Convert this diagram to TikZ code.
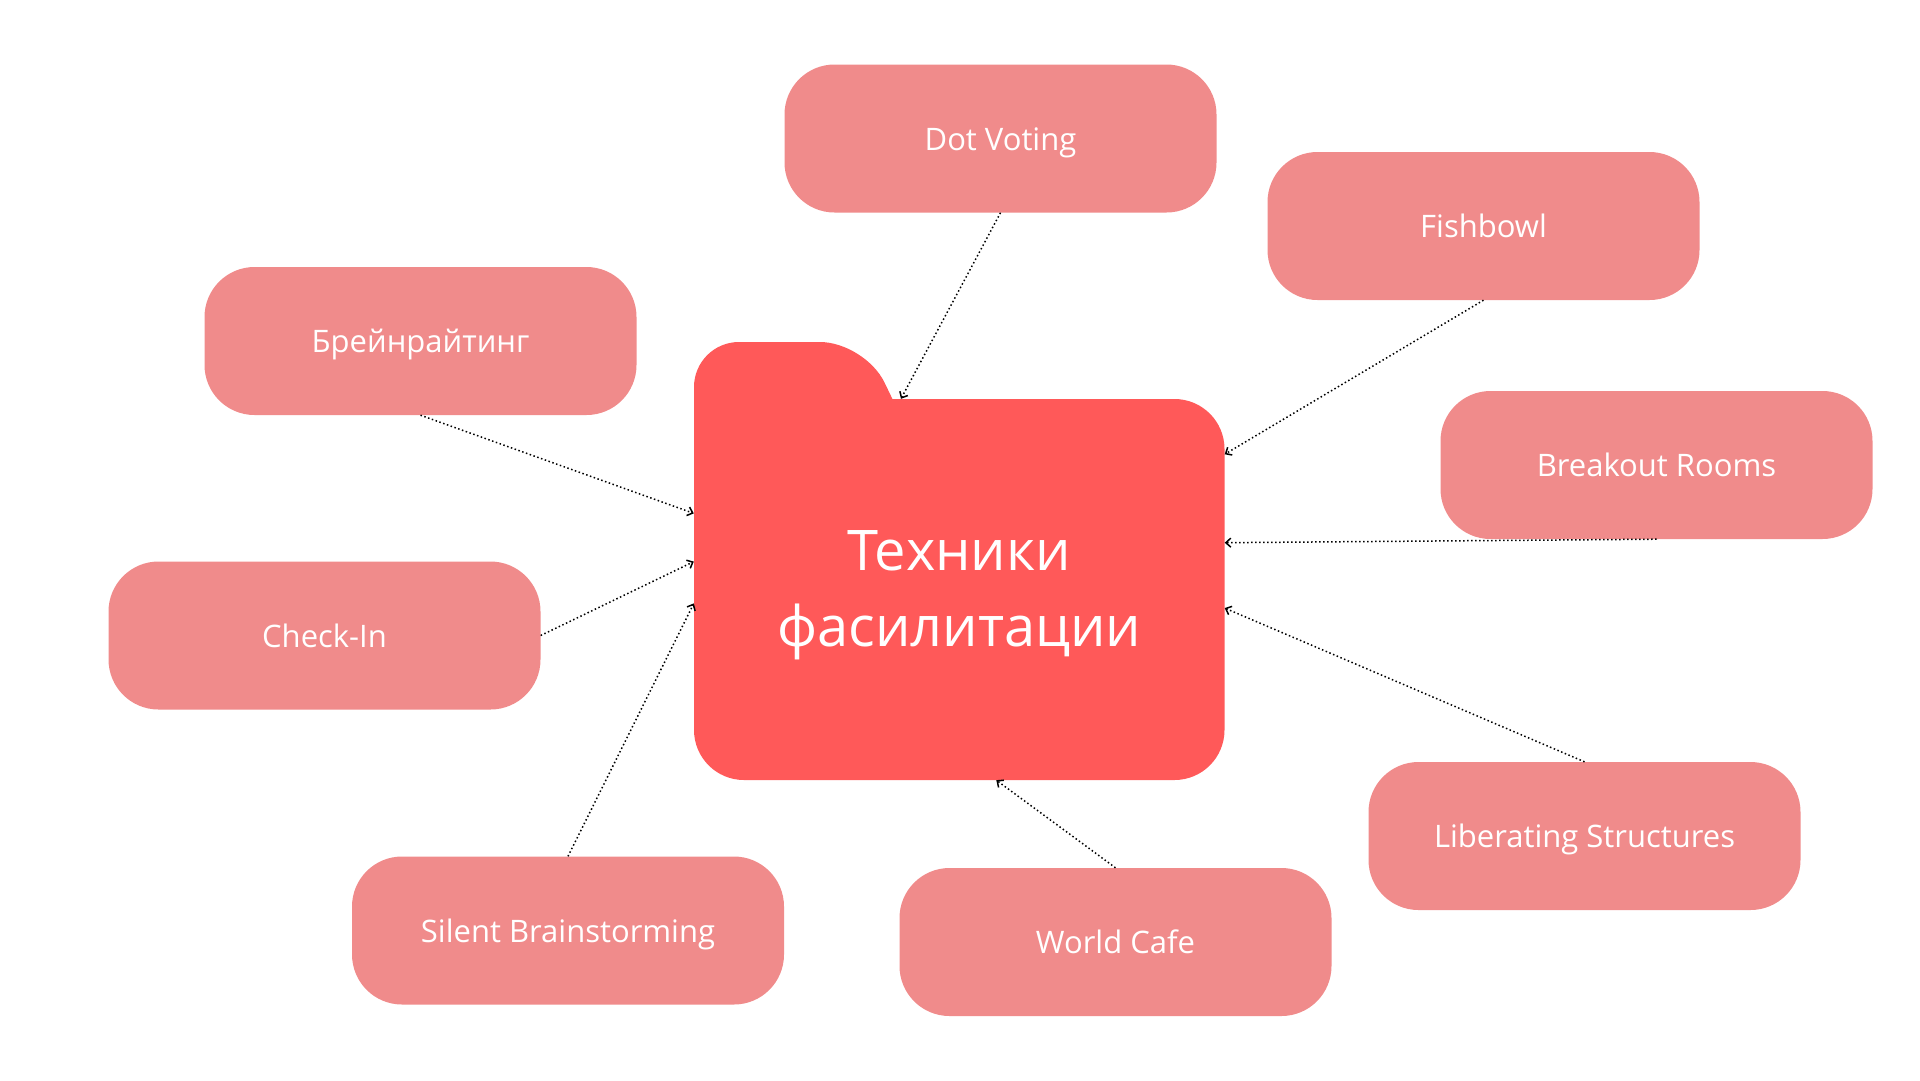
\documentclass[tikz,border=0pt]{standalone}
\usepackage{fontspec}
\setmainfont{Open Sans}
\usetikzlibrary{arrows.meta,positioning}

\definecolor{boxpink}{RGB}{240,139,139}
\definecolor{folderred}{RGB}{255,89,89}

\begin{document}
\begin{tikzpicture} [x=1pt, y=-1pt,
    technique/.style={fill=boxpink, rounded corners=50pt, minimum width=432pt, minimum height=148pt, inner sep=0pt, text height=23pt, text depth=0pt, text=white, font=\fontsize{31}{37}\selectfont},
    foldertext/.style={minimum width=530.5pt, minimum height=381pt, inner sep=0pt, align=center, text=white, font=\fontsize{56}{76}\selectfont},
link/.style={black, line width=1.5pt, dash pattern=on 1.5pt off 2.5pt, -{Straight Barb[length=5pt, width=9pt, line width=1.5pt]}}
  ]

\useasboundingbox (0,0) rectangle (1920,1080);

% folder
\fill[folderred, rounded corners=50pt] (694,399) rectangle (1224.5,780);
\fill[folderred, rounded corners=45pt] (694,520) -- (694,342) -- (865,342) -- (950.7,520) -- cycle;
\node[foldertext] (folder) at (959.25,589.5) {\rule{0pt}{52pt}Техники\\фасилитации};

\node[technique] (dot) at (1000.5,138.5) {Dot Voting};
\node[technique] (fish) at (1483.5,226) {Fishbowl};
\node[technique] (brain) at (420.5,341) {Брейнрайтинг};
\node[technique] (breakout) at (1656.5,465) {Breakout Rooms};
\node[technique] (checkin) at (324.5,635.5) {Check-In};
\node[technique] (liberating) at (1584.5,836) {Liberating Structures};
\node[technique] (silent) at (568,930.5) {Silent Brainstorming};
\node[technique] (cafe) at (1115.5,942) {World Cafe};

% arrows into the folder
\draw[link] (dot.south) -- (folder.107.6);
\draw[link] (fish.south) -- (folder.27.4);
\draw[link] (brain.south) -- (folder.164.7);
\draw[link] (breakout.south) -- (folder.10.1);
\draw[link] (checkin.east) -- (folder.174.1);
\draw[link] (liberating.north) -- (folder.-4.2);
\draw[link] (silent.north) -- (folder.-177.3);
\draw[link] (cafe.north) -- (folder.-79.6);

\end{tikzpicture}
\end{document}
